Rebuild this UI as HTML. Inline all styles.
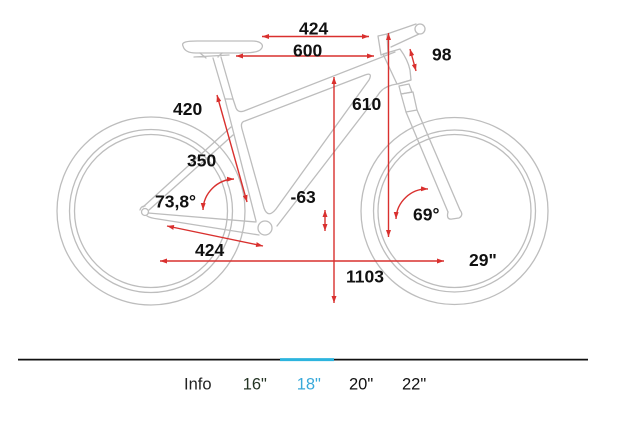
<!DOCTYPE html>
<html><head><meta charset="utf-8"><style>
html,body{margin:0;padding:0;background:#fff;}
svg{display:block;}
.l{font-family:"Liberation Sans",Arial,sans-serif;font-weight:bold;font-size:17.5px;fill:#111;}
.n{font-family:"Liberation Sans",Arial,sans-serif;font-size:16.5px;fill:#222;}
</style></head><body>
<svg width="628" height="425" viewBox="0 0 628 425" xmlns="http://www.w3.org/2000/svg">
<defs>
<marker id="a" viewBox="0 0 10 10" refX="10" refY="5" markerWidth="7" markerHeight="5" preserveAspectRatio="none" orient="auto-start-reverse" markerUnits="userSpaceOnUse"><path d="M0,0 L10,5 L0,10 z" fill="#d9302e"/></marker>
</defs>
<rect width="628" height="425" fill="#fff"/>
<g fill="none" stroke="#bdbdbd" stroke-width="1.3" stroke-linejoin="round" stroke-linecap="round">
<!-- wheels -->
<circle cx="151" cy="211" r="94"/>
<circle cx="151" cy="211" r="81.5"/>
<circle cx="151" cy="211" r="76.5"/>
<circle cx="454.5" cy="211" r="93.5"/>
<circle cx="454.5" cy="211" r="81"/>
<circle cx="454.5" cy="211" r="76.5"/>
<!-- saddle -->
<path d="M183,46 C181,42 187,41 197,41 L252,41 C262,41 265,46 260,50 C256,53 246,53 236,53 L196,53 C187,53 184,50 183,46 Z"/>
<path d="M194,57 L229,55 M200,53 L206,58 M222,53 L218,57"/>
<!-- seatpost -->
<path d="M213,58 L225,99 L233,99 L221,57"/>
<!-- seat tube rear -->
<path d="M225,99 L256,221"/>
<!-- top tube upper -->
<path d="M233,99 L236,108 Q238,113 244,111 L395,52"/>
<!-- inner triangle -->
<path d="M245,121 L365,75 Q373,72 369,80 L276,209 Q268,219 264,208 L242,129 Q240,122 245,121 Z"/>
<!-- down tube lower -->
<path d="M397,84 Q383,86 378,95 L277,226"/>
<!-- BB -->
<circle cx="265" cy="228" r="7"/>
<!-- chainstays -->
<path d="M148,213 L256,222"/>
<path d="M147,216 Q150,218 158,219 L259,235"/>
<!-- seat stays -->
<path d="M143,207 L231,127"/>
<path d="M149,210 L233,135"/>
<!-- dropout -->
<circle cx="145" cy="212" r="3.5"/>
<path d="M140,210 Q141,206 145,206"/>
<!-- head tube -->
<path d="M383,54 L400,49 Q408,60 410,70 L411,80 L397,84 Z"/>
<!-- stem -->
<path d="M378,36 L387,34 L388,53 L381,55 Z"/>
<path d="M387,34 L416,24 M391,47 L419,34"/>
<circle cx="420" cy="29" r="5"/>
<!-- fork -->
<path d="M398,84 L411,80 M399,86 L409,84 L412,92 L401,94 Z"/>
<path d="M401,94 L413,92 L417,110 L406,112 Z"/>
<path d="M406,112 L448,212 M417,110 L460,210"/>
<path d="M448,212 Q446,220 452,219 L459,218 Q464,215 460,210"/>
</g>
<!-- red dimensions -->
<g fill="none" stroke="#d9302e" stroke-width="1.4" marker-start="url(#a)" marker-end="url(#a)">
<line x1="262" y1="36.5" x2="369" y2="36.5"/>
<line x1="236" y1="56" x2="374" y2="56"/>
<line x1="388.5" y1="33" x2="388.5" y2="237"/>
<line x1="334" y1="77" x2="334" y2="303"/>
<line x1="160" y1="261" x2="444" y2="261"/>
<line x1="325" y1="210" x2="325" y2="231"/>
<line x1="410" y1="49" x2="416" y2="71"/>
<line x1="217" y1="95" x2="247" y2="202"/>
<line x1="167" y1="226" x2="263" y2="246"/>
<path d="M203,210 A32,32 0 0 1 234,179"/>
<path d="M396,219 A31,31 0 0 1 428,189"/>
</g>
<!-- labels -->
<text class="l" x="299" y="34.3">424</text>
<text class="l" x="293" y="56.7">600</text>
<text class="l" x="432" y="60.7">98</text>
<text class="l" x="352" y="110">610</text>
<text class="l" x="173" y="115">420</text>
<text class="l" x="187" y="166.7">350</text>
<text class="l" x="155" y="207.3">73,8°</text>
<text class="l" x="290.5" y="203">-63</text>
<text class="l" x="195" y="256">424</text>
<text class="l" x="346" y="282.7">1103</text>
<text class="l" x="469" y="266">29"</text>
<text class="l" x="413" y="220.7">69°</text>
<!-- nav -->
<line x1="18" y1="359.6" x2="588" y2="359.6" stroke="#111" stroke-width="1.8"/>
<line x1="280" y1="359.6" x2="334" y2="359.6" stroke="#2db4de" stroke-width="3"/>
<text class="n" x="184" y="389.3">Info</text>
<text class="n" x="242.7" y="389.3" style="fill:#253525">16"</text>
<text class="n" x="296.7" y="389.3" style="fill:#39a9da">18"</text>
<text class="n" x="349" y="389.3" style="fill:#111">20"</text>
<text class="n" x="402" y="389.3" style="fill:#111">22"</text>
</svg>
</body></html>
